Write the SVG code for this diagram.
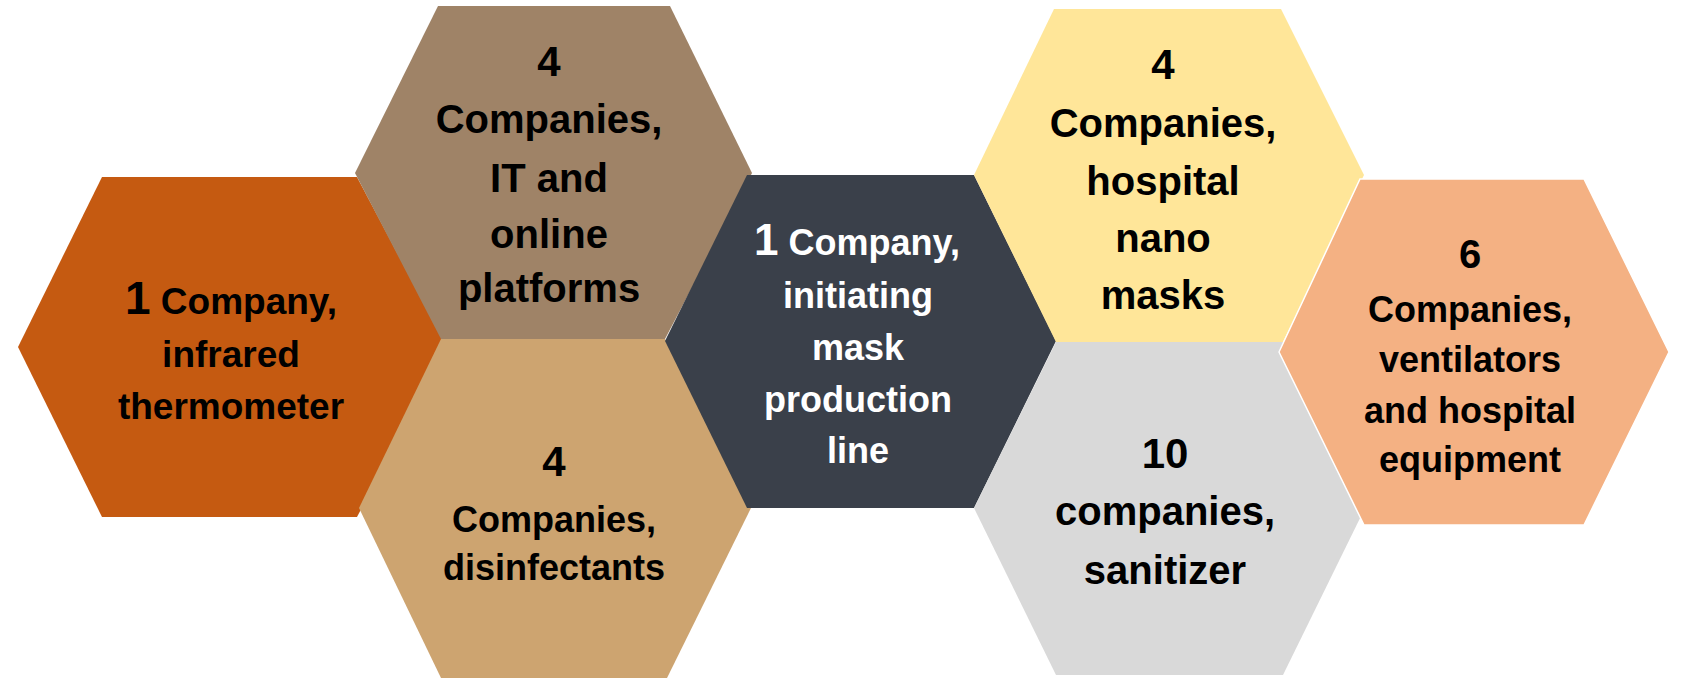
<svg xmlns="http://www.w3.org/2000/svg" width="1685" height="678" viewBox="0 0 1685 678">
<style>
text{font-family:"Liberation Sans",Arial,sans-serif;font-weight:bold;text-anchor:middle;fill:#000}
.w{fill:#fff}
.big{font-size:42px}
</style>
<rect width="1685" height="678" fill="#fff"/>
<g id="hex-orange">
<polygon points="18,347 102,177 357,177 447,347 357,517 102,517" fill="#C55A11"/>
<text font-size="37" x="231" y="314"><tspan font-size="46">1</tspan> Company,</text>
<text font-size="37"><tspan x="231" y="367">infrared</tspan><tspan x="231" y="419">thermometer</tspan></text>
</g>
<g id="hex-brown">
<polygon points="355,173 438,6 670,6 752,173 665,339 441,339" fill="#9F8367"/>
<text font-size="40"><tspan class="big" x="549" y="76">4</tspan><tspan x="549" y="133">Companies,</tspan><tspan x="549" y="192">IT and</tspan><tspan x="549" y="248">online</tspan><tspan x="549" y="302">platforms</tspan></text>
</g>
<g id="hex-tan">
<polygon points="359,508 441,339 665,339 751,508 667,678 441,678" fill="#CDA470"/>
<text font-size="36"><tspan class="big" x="554" y="476">4</tspan><tspan x="554" y="532">Companies,</tspan><tspan x="554" y="580">disinfectants</tspan></text>
</g>
<g id="hex-dark">
<polygon points="665,341 747,175 974,175 1056,341 974,508 747,508" fill="#3A404A"/>
<text class="w" font-size="36" x="857" y="255"><tspan font-size="44">1</tspan> Company,</text>
<text class="w" font-size="36"><tspan x="858" y="308">initiating</tspan><tspan x="858" y="360">mask</tspan><tspan x="858" y="412">production</tspan><tspan x="858" y="463">line</tspan></text>
</g>
<g id="hex-yellow">
<polygon points="974,175 1054,9 1281,9 1364,175 1283,342 1056,342" fill="#FFE699"/>
<text font-size="40"><tspan class="big" x="1163" y="79">4</tspan><tspan x="1163" y="137">Companies,</tspan><tspan x="1163" y="195">hospital</tspan><tspan x="1163" y="252">nano</tspan><tspan x="1163" y="309">masks</tspan></text>
</g>
<g id="hex-gray">
<polygon points="974,508 1056,342 1283,342 1365,508 1283,675 1056,675" fill="#D9D9D9"/>
<text font-size="40"><tspan class="big" x="1165" y="468">10</tspan><tspan x="1165" y="525">companies,</tspan><tspan x="1165" y="584">sanitizer</tspan></text>
</g>
<g id="hex-salmon">
<polygon points="1279,352 1360,179 1584,179 1669,352 1584,525 1364,525" fill="#F4B183" stroke="#fff" stroke-width="1.5"/>
<text font-size="36"><tspan font-size="40" x="1470" y="268">6</tspan><tspan x="1470" y="322">Companies,</tspan><tspan x="1470" y="372">ventilators</tspan><tspan x="1470" y="423">and hospital</tspan><tspan x="1470" y="472">equipment</tspan></text>
</g>
<g id="connectors"/>
</svg>
